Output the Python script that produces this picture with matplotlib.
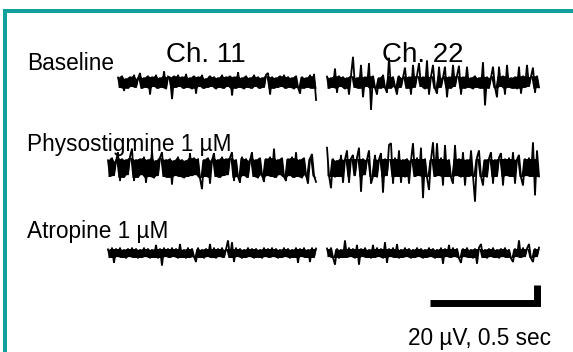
import numpy as np
import matplotlib
matplotlib.use('Agg')
import matplotlib.pyplot as plt
from matplotlib.patches import Rectangle

'''
1. Data (uV samples, one every ~9 ms, read off the picture)
'''

conditions = ['Baseline', 'Physostigmine 1 \u00b5M', 'Atropine 1 \u00b5M']
channels = ['Ch. 11', 'Ch. 22']

baseline_ch11 = [5, -6, 7, -10, 4, -7, 6, -5, 8, -6,
                 4, 10, -7, 5, -6, 7, -14, 6, -5, 8,
                 -7, 5, -6, 12, -8, 6, 5, -19, 7, -6,
                 8, -5, 6, -7, 9, -6, 5, -8, 7, -13,
                 6, -5, 8, -7, 4, -6, 7, -5, 6, -8,
                 5, -6, 8, -7, 6, -5, 7, -15, 6, -7,
                 11, -6, 5, -8, 7, -6, 5, -7, 8, -5,
                 6, -7, 5, -6, 8, 10, -14, 6, -7, 5,
                 -6, 7, -5, 8, -7, 6, -6, 5, -8, 7,
                 -6, -13, 6, -7, 5, -6, 8, -7, 9, -20]

baseline_ch22 = [6, -7, 5, -6, 15, -12, 7, -5, 6, -8,
                 5, -14, 7, 28, -6, 5, -7, 19, -17, 6,
                 -5, 21, -31, 7, -6, -14, 5, -7, 8, -6,
                 -12, 27, -7, 6, -5, -14, 7, -6, 5, 16,
                 -7, 6, -14, 19, -6, 7, 21, -5, 6, -8,
                 24, -14, 6, 19, -7, -13, 17, -6, 5, 17,
                 -17, 6, -7, 19, -5, 7, 18, -14, 6, -7,
                 17, -6, 5, -8, 7, -6, 5, -7, 22, -26,
                 6, -7, 5, 17, -6, -17, 17, -5, 7, -14,
                 19, -6, 5, -7, 6, -8, 17, -13, 7, -6,
                 19, -5, 6, 16, -12, 7, -6]

physo_ch11 = [8, -10, 11, -9, 7, 17, -15, 10, -11, 9,
              -8, 12, 21, -15, 9, -11, 10, -8, 12, -17,
              9, -10, 19, -12, 8, -9, 11, 17, -10, 9,
              -11, 10, -19, 8, -9, 12, -10, 9, -12, 8,
              -10, 16, -9, 11, -8, 10, -12, -24, 9, -10,
              11, -18, 8, 16, -10, 9, -11, 12, -9, 10,
              -8, 11, 17, -15, 9, -10, -17, 12, -9, 10,
              -11, 8, 17, -10, 9, -12, 11, -8, -16, 10,
              -9, 12, -10, 21, -11, 9, -8, 11, -10, -15,
              10, -9, 12, -11, 17, -10, 9, -12, 11, -8,
              -18, 10, 15, -9, -16]

physo_ch22 = [22, -9, -23, 10, -11, 8, -10, 14, -17, 9,
              19, -17, 10, 14, -9, 11, 22, -27, 10, -8,
              9, 19, -18, -10, 14, -11, 9, 16, -28, 10,
              -9, 25, 27, -18, 11, -10, 19, -17, 9, -11,
              10, -18, 8, 27, -10, 11, -9, 22, -34, 10,
              -11, -25, 9, 28, -10, 27, -9, 11, -20, 25,
              -10, 9, -11, -18, 25, -9, 10, -11, 17, -20,
              9, -10, 19, -9, -38, 11, 19, -10, -20, 9,
              -11, 10, 17, -18, 9, -10, 11, 16, -20, 10,
              -9, 11, -10, 17, -18, 9, 14, -11, -20, 10,
              -9, 11, -10, 28, -31, 19, -10]

atro_ch11 = [4, -5, 6, -11, 5, -4, 6, -5, 4, -6,
             5, -4, 6, -5, 5, -6, 4, -5, 6, -4,
             5, -6, 4, -5, 9, -6, 5, -14, 6, -4,
             5, -5, 6, -4, 5, -6, 10, -5, 4, -6,
             6, -5, 5, -4, -10, 6, -5, 4, -6, 5,
             -4, 10, -5, 6, -6, 5, -4, 6, -5, 4,
             14, -5, 12, -10, 6, -4, 5, -6, 4, -5,
             6, -4, 5, -6, 5, -5, 4, -6, 6, -4,
             5, -5, 6, -4, 5, -6, 4, -5, 6, -4,
             5, -6, 4, -5, 6, -11, 5, -4, 6, -5,
             4, -10, 6, -5, 5]

atro_ch22 = [5, -4, 6, -5, -13, 5, -6, 4, -5, 14,
             -5, 6, -4, 5, -6, 9, -13, 5, -4, 6,
             -5, 4, -6, 9, -5, 6, -4, 5, -6, 12,
             -11, 5, -4, 6, -5, 10, -6, 4, -5, 6,
             -4, 5, -6, 4, -5, 6, -4, 5, -6, 4,
             -5, 6, -4, 5, -6, 4, -5, 6, -12, 5,
             -4, 9, -5, 6, -4, 5, -6, -11, 5, -4,
             6, -5, 4, -6, 5, -12, 6, 10, -5, 4,
             -6, 5, -4, 6, -5, 4, -6, 5, -4, 6,
             -5, 4, -6, -10, 5, -4, 14, -5, 6, -4,
             5, 10, -6, -10, 5, -4, 6]

traces = [[baseline_ch11, baseline_ch22],
          [physo_ch11, physo_ch22],
          [atro_ch11, atro_ch22]]

# half width of the dense noise band of each trace, uV
core_uv = [[7, 7], [11, 10], [5, 5]]

scale_uv = 20
scale_sec = 0.5
scale_label = '20 \u00b5V, 0.5 sec'

'''
2. Layout
'''

W, H = 573, 352
PX_PER_SEC = 214.0
PX_PER_UV = 0.9
X0 = 108  # px where the Ch. 11 column starts
dt = 2.0 / PX_PER_SEC

row_offsets = [300, 205, 110]          # uV
col_starts = [0.0, (327 - X0) / PX_PER_SEC]
first_start = [0.047, 0.0, 0.0]         # baseline ch11 starts a bit later
label_base_y = [70, 151, 238]           # px from top
teal = '#12a09b'
font = 'Liberation Sans'

fig = plt.figure(figsize=(W / 100, H / 100), dpi=100)
fig.patch.set_facecolor('white')
ax = fig.add_axes([0, 0, 1, 1])
ax.set_xlim(-X0 / PX_PER_SEC, (W - X0) / PX_PER_SEC)
ax.set_ylim(0, H / PX_PER_UV)
ax.axis('off')

# 2.1 border (top and left only)
fig.patches.append(Rectangle((3 / W, 1 - 13 / H), 1, 4 / H, transform=fig.transFigure,
                             color=teal, lw=0))
fig.patches.append(Rectangle((3 / W, 0), 4 / W, 1 - 9 / H, transform=fig.transFigure,
                             color=teal, lw=0))

'''
3. Traces
'''

for r, row in enumerate(traces):
    for c, vals in enumerate(row):
        v = np.array(vals, dtype=float)
        start = col_starts[c] + (first_start[r] if c == 0 else 0.0)
        t = start + np.arange(len(v)) * dt
        y0 = row_offsets[r]
        # dense band: span of each pair of neighbouring samples, clipped to the core
        cl = np.clip(v, -core_uv[r][c], core_uv[r][c])
        nxt = np.r_[cl[1:], cl[-1]]
        ax.fill_between(t, y0 + np.minimum(cl, nxt), y0 + np.maximum(cl, nxt),
                        color='black', lw=0)
        ax.plot(t, v + y0, color='black', lw=1.3, solid_joinstyle='miter')
    fig.text(27 / W, 1 - label_base_y[r] / H, conditions[r], fontsize=16.3,
             family=font, va='baseline', ha='left')

for c, name in enumerate(channels):
    cx = [206, 423][c]
    fig.text(cx / W, 1 - 62 / H, name, fontsize=20, family=font,
             va='baseline', ha='center')

'''
4. Scale bar
'''

bar_t = (430 - X0) / PX_PER_SEC
bar_v = (H - 302.5) / PX_PER_UV
ax.plot([bar_t, bar_t + scale_sec, bar_t + scale_sec],
        [bar_v, bar_v, bar_v + scale_uv],
        color='black', lw=5.0, solid_joinstyle='miter', solid_capstyle='butt')
fig.text(408 / W, 1 - 345 / H, scale_label, fontsize=16.3, family=font,
         va='baseline', ha='left')

fig.savefig('out.png', dpi=100)
